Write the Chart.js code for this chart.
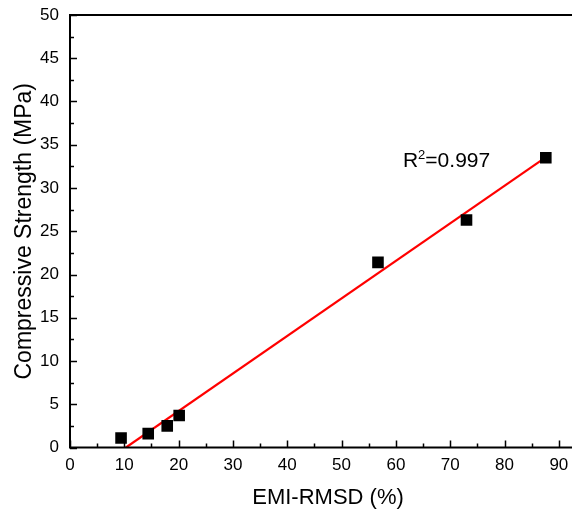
<!DOCTYPE html>
<html>
<head>
<meta charset="utf-8">
<script src="https://cdn.jsdelivr.net/npm/chart.js@4.4.1/dist/chart.umd.min.js"></script>
<style>
  html, body { margin: 0; padding: 0; background: #fff; overflow: hidden; }
  #wrap { width: 600px; height: 512px; }
</style>
</head>
<body>
<div id="wrap"><canvas id="chart" width="600" height="512"></canvas></div>
<script>
// ---------------- DATA ----------------
const rmsd = [9.4, 14.4, 17.9, 20.1, 56.7, 73.0, 87.6];
const strength = [1.1, 1.6, 2.5, 3.7, 21.4, 26.3, 33.5];
const fitX = [10.3, 87.7];
const fitY = [0, 33.6];
const xTicks = [0, 10, 20, 30, 40, 50, 60, 70, 80, 90];
const yTicks = [0, 5, 10, 15, 20, 25, 30, 35, 40, 45, 50];
const r2Text = "=0.997";

const points = rmsd.map((x, i) => ({ x: x, y: strength[i] }));
const fitLine = fitX.map((x, i) => ({ x: x, y: fitY[i] }));

const FONT = "'Liberation Sans', Arial, sans-serif";

// ---------------- FRAME + INWARD TICKS ----------------
const framePlugin = {
    id: "frame",
    afterDraw(chart) {
        const ctx = chart.ctx;
        const a = chart.chartArea;
        const xs = chart.scales.x;
        const ys = chart.scales.y;
        ctx.save();
        ctx.strokeStyle = "#000";
        ctx.lineWidth = 2;
        ctx.strokeRect(a.left, a.top, a.right - a.left, a.bottom - a.top);

        ctx.lineWidth = 1.5;
        ctx.beginPath();
        for (let v = 0; v <= 95; v += 5) {
            const px = Math.round(xs.getPixelForValue(v)) + 0.5;
            const len = v % 10 === 0 ? 7 : 4;
            ctx.moveTo(px, a.bottom);
            ctx.lineTo(px, a.bottom - len);
        }
        for (let v = 0; v <= 50; v += 2.5) {
            const py = Math.round(ys.getPixelForValue(v)) + 0.5;
            const len = v % 5 === 0 ? 7 : 4;
            ctx.moveTo(a.left, py);
            ctx.lineTo(a.left + len, py);
        }
        ctx.stroke();

        // R^2 label
        let tx = xs.getPixelForValue(61.3);
        const ty = ys.getPixelForValue(32.4);
        ctx.fillStyle = "#000";
        ctx.textBaseline = "alphabetic";
        ctx.textAlign = "left";
        ctx.font = "21px " + FONT;
        ctx.fillText("R", tx, ty);
        tx += ctx.measureText("R").width;
        ctx.font = "13px " + FONT;
        ctx.fillText("2", tx, ty - 8);
        tx += ctx.measureText("2").width;
        ctx.font = "21px " + FONT;
        ctx.fillText(r2Text, tx, ty);
        ctx.restore();
    }
};

// ---------------- CHART ----------------
new Chart(document.getElementById("chart"), {
    type: "scatter",
    data: {
        datasets: [
            {
                type: "line",
                label: "Fit",
                data: fitLine,
                borderColor: "#ff0000",
                borderWidth: 2.2,
                pointRadius: 0,
                fill: false,
                order: 2
            },
            {
                label: "Data",
                data: points,
                backgroundColor: "#000",
                borderColor: "#000",
                pointStyle: "rect",
                pointRadius: 8.2,
                borderWidth: 0,
                order: 1
            }
        ]
    },
    options: {
        responsive: false,
        animation: false,
        layout: { padding: { left: 0, top: 15, right: 14, bottom: 0 } },
        plugins: {
            legend: { display: false },
            tooltip: { enabled: false }
        },
        scales: {
            x: {
                type: "linear",
                min: 0,
                max: 95,
                grid: { display: false, drawTicks: false },
                border: { display: false },
                afterBuildTicks: s => { s.ticks = xTicks.map(v => ({ value: v })); },
                afterFit: s => { s.height = 64.5; },
                ticks: {
                    color: "#000",
                    padding: 8,
                    maxRotation: 0,
                    font: { family: FONT, size: 17 }
                },
                title: {
                    display: true,
                    text: "EMI-RMSD (%)",
                    color: "#000",
                    padding: { top: 0, bottom: 1 },
                    font: { family: FONT, size: 22 }
                }
            },
            y: {
                min: 0,
                max: 50,
                grid: { display: false, drawTicks: false },
                border: { display: false },
                afterBuildTicks: s => { s.ticks = yTicks.map(v => ({ value: v })); },
                afterFit: s => { s.width = 70; s.paddingTop = 0; s.paddingBottom = 0; },
                ticks: {
                    color: "#000",
                    padding: 11,
                    font: { family: FONT, size: 17 }
                },
                title: {
                    display: true,
                    text: "Compressive Strength (MPa)",
                    color: "#000",
                    padding: { top: 11, bottom: 0 },
                    font: { family: FONT, size: 23 }
                }
            }
        }
    },
    plugins: [framePlugin]
});
</script>
</body>
</html>
